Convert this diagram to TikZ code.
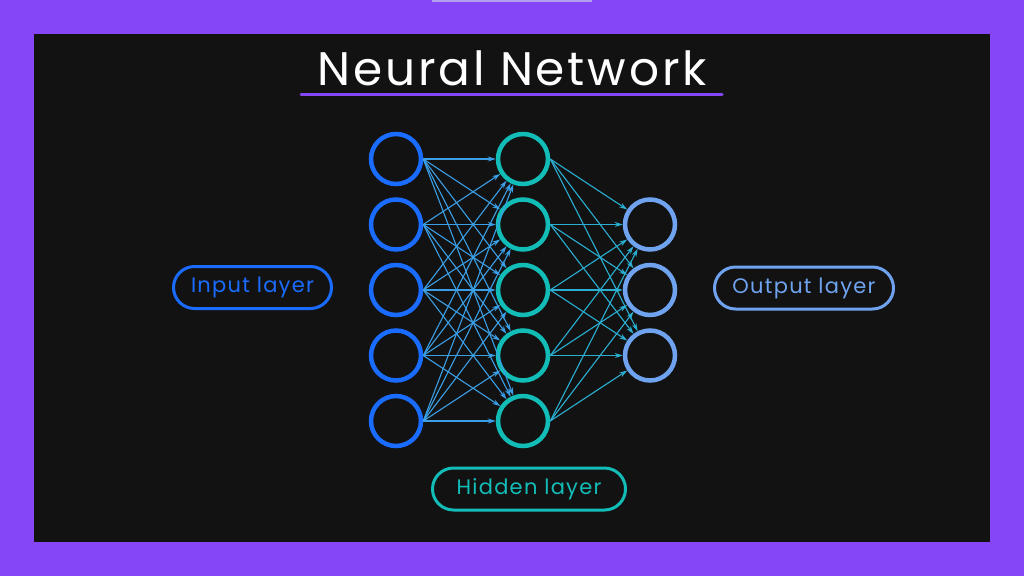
\documentclass[tikz,border=0pt]{standalone}
\usepackage{fontspec}
\setmainfont{Poppins}[LetterSpace=6]
\usetikzlibrary{arrows.meta}
\definecolor{FrameColor}{HTML}{8446F6}
\definecolor{BoardColor}{HTML}{121212}
\definecolor{StripColor}{HTML}{B0A0EE}
\definecolor{InColor}{HTML}{1A6CFF}
\definecolor{HidColor}{HTML}{12BDB8}
\definecolor{OutColor}{HTML}{6FA3F0}
\definecolor{WireIn}{HTML}{3A9FE6}
\definecolor{WireOut}{HTML}{2AAFD2}

\begin{document}
\begin{tikzpicture}[x=1pt, y=-1pt]
  \tikzstyle{every node} = [inner sep = 0]
\tikzset{VertexStyle/.style={circle, draw, line width=4.5pt, minimum size=50pt}}
\tikzset{LayerStyle/.style={draw, line width=3pt, rounded corners=21pt,
                            minimum height=42pt, font=\fontsize{21}{25}\selectfont}}
\tikzset{EdgeStyle/.style={line width=1.1pt, -{Stealth[length=8pt, width=5pt]}}}

% frame and board
\fill[FrameColor] (0,0) rectangle (1024,576);
\fill[StripColor] (432,0) rectangle (592,2);
\fill[BoardColor] (34,34) rectangle (990,542);

% title
\node[white, font=\fontsize{47}{52}\selectfont] (Title) at (512,68) {Neural Network};
\coordinate (ULeft) at (301,94);
\coordinate (URight) at (722,94);
\draw[FrameColor, line width=3pt, line cap=round] (ULeft) -- (URight);

% layers
\foreach \i in {0,...,4}
  \node[VertexStyle, InColor] (I\i) at (396,159+65.5*\i) {};
\foreach \i in {0,...,4}
  \node[VertexStyle, HidColor] (H\i) at (523,159+65.5*\i) {};
\foreach \i in {0,...,2}
  \node[VertexStyle, OutColor] (O\i) at (650,224.5+65.5*\i) {};

% weights
\foreach \i in {0,...,4}
  \foreach \j in {0,...,4}
    \draw[EdgeStyle, WireIn] (I\i.east) -- (H\j);
\foreach \i in {0,...,4}
  \foreach \j in {0,...,2}
    \draw[EdgeStyle, WireOut] (H\i.east) -- (O\j);

% labels
\node[LayerStyle, InColor, minimum width=158pt] (InLabel) at (252.5,287.5) {Input layer};
\node[LayerStyle, HidColor, minimum width=193pt] (HidLabel) at (529,489) {Hidden layer};
\node[LayerStyle, OutColor, minimum width=179pt] (OutLabel) at (804,288) {Output layer};

\end{tikzpicture}
\end{document}
